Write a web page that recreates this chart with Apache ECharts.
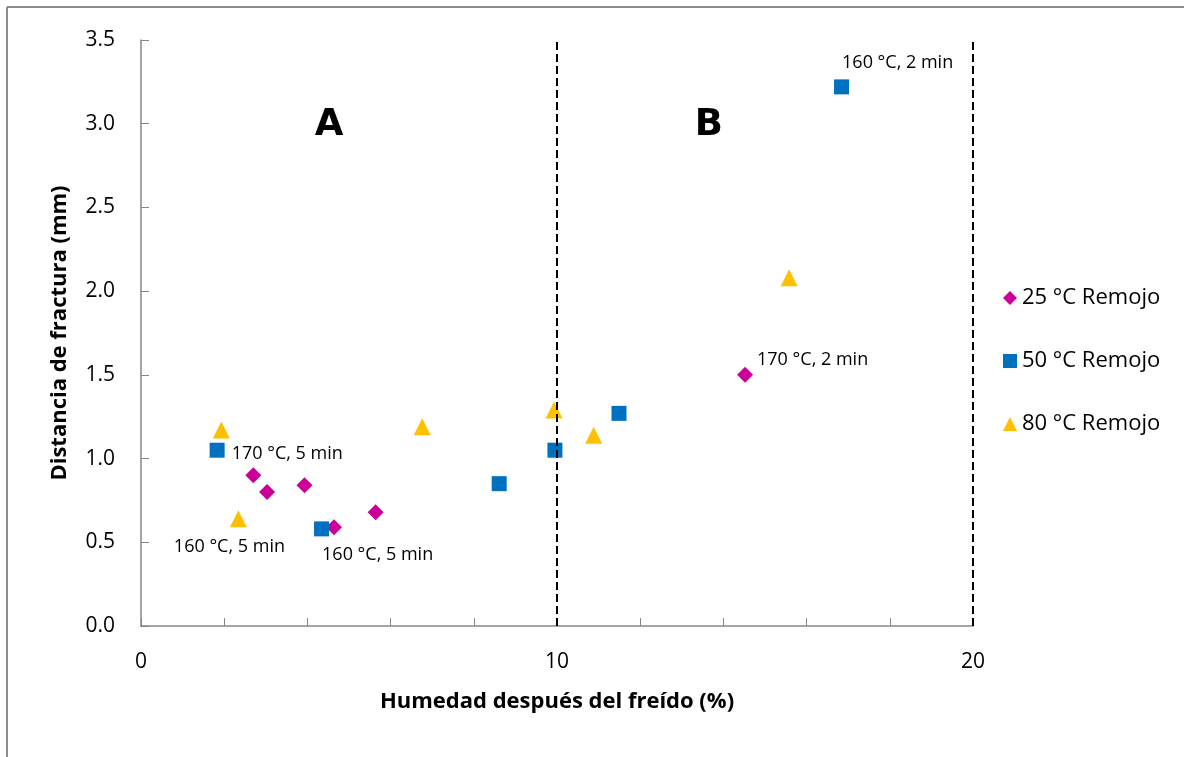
<!DOCTYPE html>
<html>
<head>
<meta charset="utf-8">
<script src="https://cdn.jsdelivr.net/npm/echarts@6/dist/echarts.min.js"></script>
<style>
  html, body { margin: 0; padding: 0; background: #ffffff; }
  #chart { width: 1184px; height: 757px; }
</style>
</head>
<body>
<div id="chart"></div>
<script>
// Moisture after frying (%) vs. fracture distance (mm), per soaking temperature
const seriesNames = ['25 °C Remojo', '50 °C Remojo', '80 °C Remojo'];

const soak25X = [2.70, 3.03, 3.93, 4.64, 5.64, 14.52];
const soak25Y = [0.90, 0.80, 0.84, 0.59, 0.68, 1.50];
const soak25Notes = ['', '', '', '', '', '170 °C, 2 min'];

const soak50X = [1.83, 4.34, 8.61, 9.95, 11.49, 16.84];
const soak50Y = [1.05, 0.58, 0.85, 1.05, 1.27, 3.22];
const soak50Notes = ['170 °C, 5 min', '160 °C, 5 min', '', '', '', '160 °C, 2 min'];

const soak80X = [1.93, 2.34, 6.76, 9.93, 10.88, 15.58];
const soak80Y = [1.17, 0.64, 1.19, 1.29, 1.14, 2.08];
const soak80Notes = ['', '160 °C, 5 min', '', '', '', ''];

// zone boundaries and zone names
const zoneBounds = [10, 20];
const zoneNames = ['A', 'B'];
const zoneNameX = [4.52, 13.65];
const zoneNameY = [2.99, 2.99];

const xTicks = [0, 10, 20];

const colors = ['#CC0099', '#0070C0', '#FFC000'];
const symbols = ['diamond', 'rect', 'triangle'];
const sizes = [16, 15, 17];

// label offsets per annotated point (series index -> point index -> [dx, dy])
const noteOffsets = {
  0: { 5: [4, -15] },
  1: { 0: [7, 4], 1: [-7, 26], 5: [-7, -24] },
  2: { 1: [-73, 28] }
};

const FONT = '"Open Sans", "Noto Sans", sans-serif';

function buildData(xs, ys, notes, si) {
  return xs.map((x, i) => {
    const item = { value: [x, ys[i]] };
    if (notes[i]) {
      const off = (noteOffsets[si] && noteOffsets[si][i]) || [0, 0];
      item.label = {
        show: true,
        formatter: notes[i],
        position: 'right',
        distance: 0,
        offset: off,
        color: '#000',
        fontFamily: FONT,
        fontSize: 18
      };
    }
    return item;
  });
}

const allX = [soak25X, soak50X, soak80X];
const allY = [soak25Y, soak50Y, soak80Y];
const allNotes = [soak25Notes, soak50Notes, soak80Notes];

const scatterSeries = seriesNames.map((name, si) => ({
  name: name,
  type: 'scatter',
  symbol: symbols[si],
  symbolSize: sizes[si],
  itemStyle: { color: colors[si], opacity: 1 },
  emphasis: { disabled: true },
  data: buildData(allX[si], allY[si], allNotes[si], si),
  z: 3
}));

const chart = echarts.init(document.getElementById('chart'), null, { renderer: 'canvas' });

chart.setOption({
  animation: false,
  backgroundColor: '#ffffff',
  grid: { left: 141, right: 211, top: 40, bottom: 131, containLabel: false },
  xAxis: {
    type: 'value',
    min: 0, max: 20, interval: 2,
    name: 'Humedad después del freído (%)',
    nameLocation: 'middle',
    nameGap: 65,
    nameTextStyle: { fontFamily: FONT, fontWeight: 'bold', fontSize: 22, color: '#000' },
    axisLine: { show: true, lineStyle: { color: '#868686', width: 1.5 } },
    axisTick: { show: true, inside: true, length: 8, lineStyle: { color: '#868686' } },
    axisLabel: {
      margin: 26,
      fontFamily: FONT, fontSize: 21, color: '#000',
      formatter: v => (xTicks.indexOf(v) >= 0 ? String(v) : '')
    },
    splitLine: { show: false }
  },
  yAxis: {
    type: 'value',
    min: 0, max: 3.5, interval: 0.5,
    name: 'Distancia de fractura (mm)',
    nameLocation: 'middle',
    nameGap: 70,
    nameTextStyle: { fontFamily: FONT, fontWeight: 'bold', fontSize: 22, color: '#000' },
    axisLine: { show: true, lineStyle: { color: '#868686', width: 1.5 } },
    axisTick: { show: true, inside: true, length: 8, lineStyle: { color: '#868686' } },
    axisLabel: {
      margin: 26,
      fontFamily: FONT, fontSize: 21, color: '#000',
      formatter: v => v.toFixed(1)
    },
    splitLine: { show: false }
  },
  legend: {
    orient: 'vertical',
    left: 998,
    top: 282,
    itemWidth: 14,
    itemHeight: 14,
    itemGap: 41,
    data: seriesNames.map((n, i) => ({ name: n, icon: symbols[i] })),
    textStyle: { fontFamily: FONT, fontSize: 22, color: '#000', lineHeight: 22 }
  },
  graphic: [
    { type: 'line', shape: { x1: 7, y1: 7, x2: 1184, y2: 7 }, style: { stroke: '#8c8c8c', lineWidth: 2 } },
    { type: 'line', shape: { x1: 7, y1: 7, x2: 7, y2: 757 }, style: { stroke: '#8c8c8c', lineWidth: 2 } }
  ],
  series: scatterSeries.concat([{
    name: 'zonas',
    type: 'scatter',
    data: [],
    silent: true,
    markLine: {
      silent: true,
      symbol: 'none',
      label: { show: false },
      lineStyle: { color: '#000', width: 2, type: [8, 4], opacity: 1 },
      data: zoneBounds.map(b => ({ xAxis: b }))
    },
    markPoint: {
      silent: true,
      symbol: 'circle',
      symbolSize: 1,
      itemStyle: { color: 'rgba(0,0,0,0)' },
      label: {
        show: true,
        position: 'inside',
        fontFamily: '"DejaVu Sans", sans-serif',
        fontWeight: 'bold',
        fontSize: 37,
        color: '#000'
      },
      data: zoneNames.map((n, i) => ({
        name: n,
        coord: [zoneNameX[i], zoneNameY[i]],
        label: { formatter: n }
      }))
    }
  }])
});
</script>
</body>
</html>
